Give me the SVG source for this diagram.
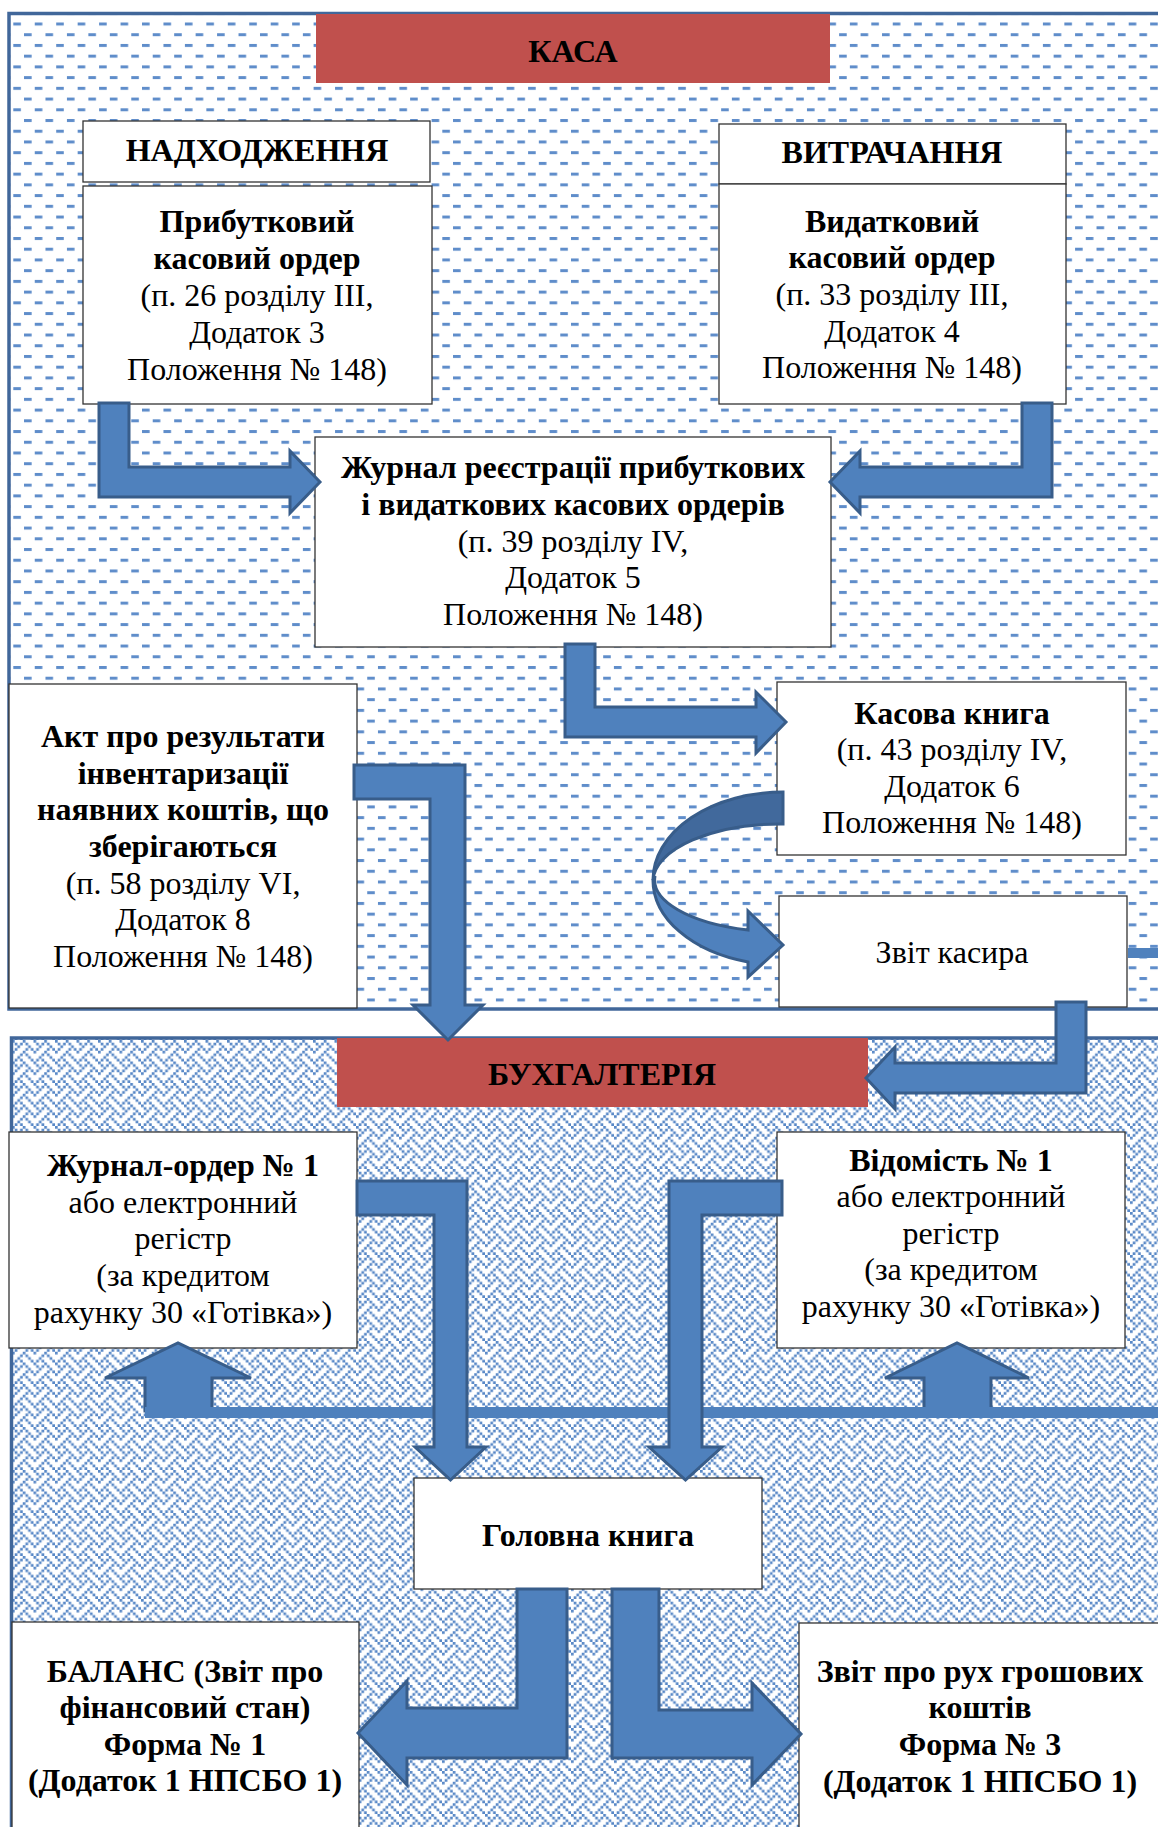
<svg xmlns="http://www.w3.org/2000/svg" width="1158" height="1827" viewBox="0 0 1158 1827">
  <style>
    .frame { fill: none; stroke: #41679a; stroke-width: 3.5; }
    .banner { fill: #c0504d; }
    .box { fill: #ffffff; stroke: #333333; stroke-width: 1.3; }
    .t { font-family: "Liberation Serif", "Times New Roman", serif; font-size: 32px; text-anchor: middle; fill: #000000; }
    .b { font-weight: bold; }
    .arrow { fill: #4f81bd; stroke: #385d8a; stroke-width: 3; stroke-linejoin: miter; }
    .arrow-back { fill: #41699c; stroke: #385d8a; stroke-width: 3; }
    .bar { fill: #4f81bd; }
  </style>
  <defs>
    <!-- dashed-horizontal fill for the cash-desk area -->
    <pattern id="dashH" patternUnits="userSpaceOnUse" x="13.3" y="22.5" width="21.45" height="21.45">
      <rect x="0" y="0" width="7.6" height="3" fill="#5f8dca"/>
      <rect x="10.72" y="10.72" width="7.6" height="3" fill="#5f8dca"/>
    </pattern>
    <!-- weave fill for the accounting area -->
    <pattern id="weave" patternUnits="userSpaceOnUse" x="12" y="1040" width="21.5" height="21.5">
      <path fill="#5787c6" d="M0,0h2.69v2.69h-2.69z M10.75,0h2.69v2.69h-2.69z
        M2.69,2.69h2.69v2.69h-2.69z M8.06,2.69h2.69v2.69h-2.69z M13.44,2.69h2.69v2.69h-2.69z
        M5.38,5.38h2.69v2.69h-2.69z M16.13,5.38h2.69v2.69h-2.69z
        M2.69,8.06h2.69v2.69h-2.69z M13.44,8.06h2.69v2.69h-2.69z M18.81,8.06h2.69v2.69h-2.69z
        M0,10.75h2.69v2.69h-2.69z M10.75,10.75h2.69v2.69h-2.69z
        M8.06,13.44h2.69v2.69h-2.69z M13.44,13.44h2.69v2.69h-2.69z
        M5.38,16.13h2.69v2.69h-2.69z M16.13,16.13h2.69v2.69h-2.69z
        M2.69,18.81h2.69v2.69h-2.69z M8.06,18.81h2.69v2.69h-2.69z M18.81,18.81h2.69v2.69h-2.69z"/>
    </pattern>
  </defs>

  <rect x="0" y="0" width="1158" height="1827" fill="#ffffff"/>

  <!-- Cash desk area -->
  <g id="area-kasa">
    <rect x="9" y="14" width="1160" height="995" fill="url(#dashH)"/>
    <rect class="frame" x="9" y="13.5" width="1160" height="995.5"/>
    <rect class="banner" x="316" y="14" width="514" height="69"/>
    <text class="t b" x="573" y="62">КАСА</text>
    <!-- stub of a connector leaving to the right -->
    <rect class="bar" x="1128" y="948" width="32" height="10"/>
  </g>

  <!-- Accounting area -->
  <g id="area-buh">
    <rect x="12" y="1038" width="1160" height="800" fill="url(#weave)"/>
    <rect class="frame" x="11.5" y="1038" width="1160" height="800"/>
    <rect class="banner" x="337" y="1038" width="531" height="69"/>
    <text class="t b" x="602" y="1085">БУХГАЛТЕРІЯ</text>
  </g>

  <!-- Nodes -->
  <g id="node-nadkhodzhennia">
    <rect class="box" x="83" y="121" width="347" height="61"/>
    <text class="t b" x="257" y="161">НАДХОДЖЕННЯ</text>
  </g>
  <g id="node-prybutkovyi">
    <rect class="box" x="83" y="186" width="349" height="218"/>
    <text class="t b" x="257" y="232">Прибутковий</text>
    <text class="t b" x="257" y="269">касовий ордер</text>
    <text class="t" x="257" y="306">(п. 26 розділу III,</text>
    <text class="t" x="257" y="343">Додаток 3</text>
    <text class="t" x="257" y="380">Положення № 148)</text>
  </g>
  <g id="node-vytrachannia">
    <rect class="box" x="719" y="124" width="347" height="60"/>
    <text class="t b" x="892" y="163">ВИТРАЧАННЯ</text>
  </g>
  <g id="node-vydatkovyi">
    <rect class="box" x="719" y="184" width="347" height="220"/>
    <text class="t b" x="892" y="232">Видатковий</text>
    <text class="t b" x="892" y="268">касовий ордер</text>
    <text class="t" x="892" y="305">(п. 33 розділу III,</text>
    <text class="t" x="892" y="342">Додаток 4</text>
    <text class="t" x="892" y="378">Положення № 148)</text>
  </g>
  <g id="node-zhurnal-reiestratsii">
    <rect class="box" x="315" y="437" width="516" height="210"/>
    <text class="t b" x="573" y="478">Журнал реєстрації прибуткових</text>
    <text class="t b" x="573" y="515">і видаткових касових ордерів</text>
    <text class="t" x="573" y="552">(п. 39 розділу IV,</text>
    <text class="t" x="573" y="588">Додаток 5</text>
    <text class="t" x="573" y="625">Положення № 148)</text>
  </g>
  <g id="node-kasova-knyha">
    <rect class="box" x="777" y="682" width="349" height="173"/>
    <text class="t b" x="952" y="724">Касова книга</text>
    <text class="t" x="952" y="760">(п. 43 розділу IV,</text>
    <text class="t" x="952" y="797">Додаток 6</text>
    <text class="t" x="952" y="833">Положення № 148)</text>
  </g>
  <g id="node-zvit-kasyra">
    <rect class="box" x="779" y="896" width="348" height="111"/>
    <text class="t" x="952" y="963">Звіт касира</text>
  </g>
  <g id="node-akt">
    <rect class="box" x="9" y="684" width="348" height="324"/>
    <text class="t b" x="183" y="747">Акт про результати</text>
    <text class="t b" x="183" y="784">інвентаризації</text>
    <text class="t b" x="183" y="820">наявних коштів, що</text>
    <text class="t b" x="183" y="857">зберігаються</text>
    <text class="t" x="183" y="894">(п. 58 розділу VI,</text>
    <text class="t" x="183" y="930">Додаток 8</text>
    <text class="t" x="183" y="967">Положення № 148)</text>
  </g>
  <g id="node-zhurnal-order">
    <rect class="box" x="9" y="1132" width="348" height="216"/>
    <text class="t b" x="183" y="1176">Журнал-ордер № 1</text>
    <text class="t" x="183" y="1213">або електронний</text>
    <text class="t" x="183" y="1249">регістр</text>
    <text class="t" x="183" y="1286">(за кредитом</text>
    <text class="t" x="183" y="1323">рахунку 30 «Готівка»)</text>
  </g>
  <g id="node-vidomist">
    <rect class="box" x="777" y="1132" width="348" height="216"/>
    <text class="t b" x="951" y="1171">Відомість № 1</text>
    <text class="t" x="951" y="1207">або електронний</text>
    <text class="t" x="951" y="1244">регістр</text>
    <text class="t" x="951" y="1280">(за кредитом</text>
    <text class="t" x="951" y="1317">рахунку 30 «Готівка»)</text>
  </g>
  <g id="node-holovna-knyha">
    <rect class="box" x="414" y="1478" width="348" height="111"/>
    <text class="t b" x="588" y="1546">Головна книга</text>
  </g>
  <g id="node-balans">
    <rect class="box" x="12" y="1622" width="347" height="220"/>
    <text class="t b" x="185" y="1682">БАЛАНС (Звіт про</text>
    <text class="t b" x="185" y="1718">фінансовий стан)</text>
    <text class="t b" x="185" y="1755">Форма № 1</text>
    <text class="t b" x="185" y="1791">(Додаток 1 НПСБО 1)</text>
  </g>
  <g id="node-zvit-rukh">
    <rect class="box" x="799" y="1623" width="380" height="220"/>
    <text class="t b" x="980" y="1682">Звіт про рух грошових</text>
    <text class="t b" x="980" y="1718">коштів</text>
    <text class="t b" x="980" y="1755">Форма № 3</text>
    <text class="t b" x="980" y="1792">(Додаток 1 НПСБО 1)</text>
  </g>

  <!-- Connectors -->
  <g id="connectors">
    <!-- receipt order -> register journal -->
    <path class="arrow" d="M99,403 L129,403 L129,467 L290,467 L290,451 L320,482 L290,513 L290,497 L99,497 Z"/>
    <!-- expense order -> register journal -->
    <path class="arrow" d="M1052,403 L1022,403 L1022,467 L860,467 L860,451 L830,482 L860,513 L860,497 L1052,497 Z"/>
    <!-- register journal -> cash book -->
    <path class="arrow" d="M565,644 L595,644 L595,707 L756,707 L756,692 L786,722 L756,753 L756,737 L565,737 Z"/>
    <!-- cash book -> cashier report (U-turn) -->
    <path class="arrow-back" d="M783,792 A130,88 0 0 0 653,880 A128,58 0 0 1 783,824 Z"/>
    <path class="arrow" d="M653,880 A130,85 0 0 0 748,962 L748,977 L783,945 L748,911 L748,930 A128,52 0 0 1 655,876 Z"/>
    <!-- inventory act -> accounting -->
    <path class="arrow" d="M354,765 L465,765 L465,1005 L483,1005 L448,1040 L413,1005 L430,1005 L430,799 L354,799 Z"/>
    <!-- cashier report -> accounting -->
    <path class="arrow" d="M1056,1002 L1086,1002 L1086,1093 L895,1093 L895,1109 L866,1078 L895,1047 L895,1063 L1056,1063 Z"/>
    <!-- up arrows from the distribution line -->
    <path class="arrow" d="M145,1411 L145,1378 L105,1378 L178,1343 L251,1378 L212,1378 L212,1411 Z"/>
    <path class="arrow" d="M924,1411 L924,1378 L885,1378 L957,1343 L1029,1378 L991,1378 L991,1411 Z"/>
    <!-- distribution line -->
    <rect class="bar" x="145" y="1407" width="1015" height="11"/>
    <!-- journal-order -> general ledger -->
    <path class="arrow" d="M357,1181 L467,1181 L467,1447 L486,1447 L450.5,1480 L415,1447 L434,1447 L434,1215 L357,1215 Z"/>
    <!-- statement -> general ledger -->
    <path class="arrow" d="M782,1181 L669,1181 L669,1447 L649,1447 L685.5,1480 L722,1447 L702,1447 L702,1215 L782,1215 Z"/>
    <!-- general ledger -> balance sheet -->
    <path class="arrow" d="M517,1589 L567,1589 L567,1758 L407,1758 L407,1785 L358,1733 L407,1681 L407,1708 L517,1708 Z"/>
    <!-- general ledger -> cash flow statement -->
    <path class="arrow" d="M659,1589 L612,1589 L612,1758 L752,1758 L752,1785 L801,1734 L752,1683 L752,1710 L659,1710 Z"/>
  </g>
</svg>
